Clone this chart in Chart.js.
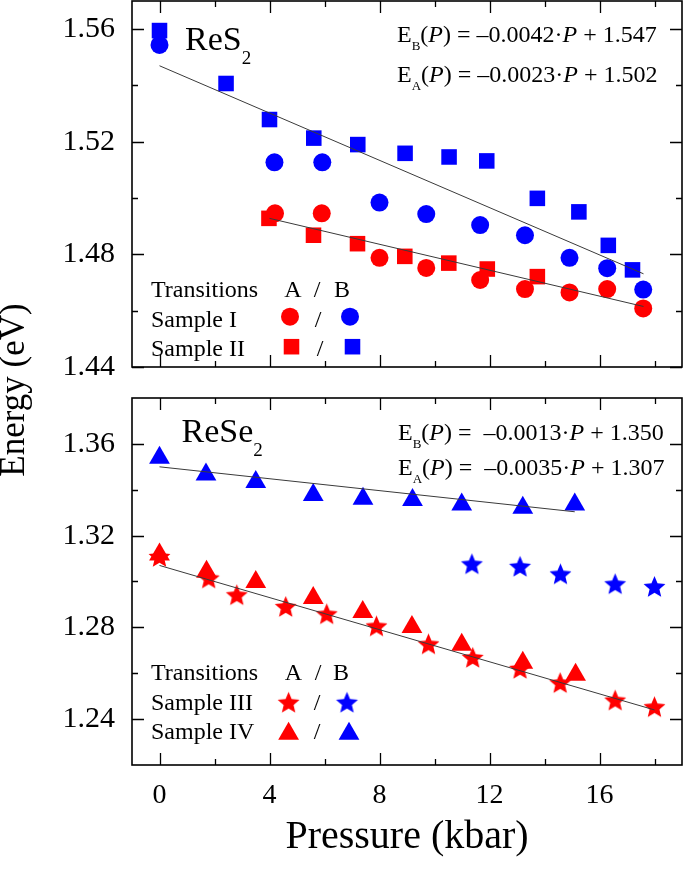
<!DOCTYPE html>
<html><head><meta charset="utf-8">
<script src="https://cdn.jsdelivr.net/npm/chart.js@4/dist/chart.umd.min.js"></script>
<style>
html,body{margin:0;padding:0;background:#fff;}
#wrap{position:relative;width:685px;height:869px;}
canvas{position:absolute;left:0;top:0;}
</style></head><body>
<div id="wrap"><canvas id="cBot" width="685" height="869"></canvas><canvas id="cTop" width="685" height="869"></canvas></div>
<script>
// ---------- data ----------
const xTickValues = [0, 2, 4, 6, 8, 10, 12, 14, 16, 18];
const xTickLabels = ['0', '', '4', '', '8', '', '12', '', '16', ''];
const yTopTickValues = [1.44, 1.46, 1.48, 1.50, 1.52, 1.54, 1.56];
const yTopTickLabels = ['1.44', '', '1.48', '', '1.52', '', '1.56'];
const yBotTickValues = [1.24, 1.26, 1.28, 1.30, 1.32, 1.34, 1.36];
const yBotTickLabels = ['1.24', '', '1.28', '', '1.32', '', '1.36'];

// ReS2 — Sample I (circles), Sample II (squares)
const s1A_P = [4.2, 5.9, 8.0, 9.7, 11.66, 13.29, 14.91, 16.28, 17.59];
const s1A_E = [1.4946, 1.4946, 1.4788, 1.4752, 1.4709, 1.4677, 1.4665, 1.4677, 1.4608];
const s1B_P = [0, 4.18, 5.92, 8.0, 9.7, 11.66, 13.29, 14.91, 16.28, 17.59];
const s1B_E = [1.5544, 1.5127, 1.5127, 1.4984, 1.4943, 1.4904, 1.4868, 1.4788, 1.4751, 1.4675];
const s2A_P = [3.98, 5.6, 7.2, 8.92, 10.52, 11.92, 13.74];
const s2A_E = [1.4928, 1.4868, 1.4838, 1.4793, 1.4769, 1.4748, 1.4721];
const s2B_P = [0, 2.42, 4.0, 5.61, 7.21, 8.93, 10.53, 11.9, 13.74, 15.25, 16.32, 17.2];
const s2B_E = [1.5595, 1.5407, 1.5279, 1.5213, 1.5190, 1.5159, 1.5146, 1.5132, 1.4999, 1.4951, 1.4832, 1.4745];
// ReS2 fit lines (end points)
const fitTopB_P = [0, 17.6];
const fitTopB_E = [1.547, 1.4731];
const fitTopA_P = [4.0, 17.6];
const fitTopA_E = [1.4928, 1.4615];

// ReSe2 — Sample III (stars), Sample IV (triangles)
const s3A_P = [0, 1.79, 2.81, 4.59, 6.08, 7.89, 9.78, 11.39, 13.11, 14.57, 16.57, 18.0];
const s3A_E = [1.3109, 1.3015, 1.2942, 1.2891, 1.2859, 1.2806, 1.2728, 1.2669, 1.2621, 1.2559, 1.2483, 1.2454];
const s3B_P = [11.36, 13.11, 14.58, 16.57, 18.0];
const s3B_E = [1.3077, 1.3066, 1.3033, 1.2990, 1.2978];
const s4A_P = [0, 1.71, 3.5, 5.59, 7.39, 9.18, 10.99, 13.21, 15.13];
const s4A_E = [1.3118, 1.3042, 1.2998, 1.2928, 1.2867, 1.2802, 1.2724, 1.2646, 1.2593];
const s4B_P = [0, 1.69, 3.5, 5.59, 7.4, 9.2, 10.99, 13.21, 15.1];
const s4B_E = [1.3540, 1.3467, 1.3434, 1.3377, 1.3361, 1.3355, 1.3336, 1.3322, 1.3336];
// ReSe2 fit lines (end points)
const fitBotB_P = [0, 15.1];
const fitBotB_E = [1.350, 1.3304];
const fitBotA_P = [0, 18.0];
const fitBotA_E = [1.307, 1.244];

// ---------- styling ----------
const FF = '"Liberation Serif", "Times New Roman", serif';
const RED = '#ff0000', BLUE = '#0000ff';
const R_CIRCLE = 9, R_RECT = 11, R_TRI = 12;

function makeStar(color, R, ratio) {
  const size = Math.ceil(R * 2 + 2);
  const c = document.createElement('canvas'); c.width = size; c.height = size;
  const g = c.getContext('2d'); g.fillStyle = color; g.beginPath();
  const cx = size / 2, cy = size / 2 + R * 0.09;
  for (let i = 0; i < 10; i++) {
    const rr = i % 2 ? R * ratio : R;
    const a = -Math.PI / 2 + i * Math.PI / 5;
    const px = cx + rr * Math.cos(a), py = cy + rr * Math.sin(a);
    if (i) g.lineTo(px, py); else g.moveTo(px, py);
  }
  g.closePath(); g.fill(); return c;
}
const starRed = makeStar(RED, 11.5, 0.45);
const starBlue = makeStar(BLUE, 11.5, 0.45);

function pts(P, E) { return P.map((p, i) => ({ x: p, y: E[i] })); }
function scat(P, E, style, color, r) {
  return { type: 'scatter', data: pts(P, E), pointStyle: style, pointRadius: r, pointHoverRadius: r,
    backgroundColor: color, borderColor: color, borderWidth: 0, order: 1, showLine: false, clip: false };
}
function fit(P, E) {
  return { type: 'line', data: pts(P, E), borderColor: '#3a3a3a', borderWidth: 1, pointRadius: 0,
    fill: false, tension: 0, order: 0, clip: false };
}

function drawRich(ctx, x, y, segs) {
  ctx.textAlign = 'left'; ctx.textBaseline = 'alphabetic';
  for (const s of segs) {
    ctx.font = (s.it ? 'italic ' : '') + (s.s || 24) + 'px ' + FF;
    ctx.fillText(s.t, x, y + (s.dy || 0));
    x += ctx.measureText(s.t).width;
  }
}
function drawText(ctx, t, x, y, size, align) {
  ctx.font = size + 'px ' + FF; ctx.textAlign = align || 'left'; ctx.textBaseline = 'alphabetic';
  ctx.fillText(t, x, y);
}
function drawMarker(ctx, style, x, y, color) {
  ctx.save(); ctx.fillStyle = color; ctx.beginPath();
  if (style === 'circle') { ctx.arc(x, y, R_CIRCLE, 0, Math.PI * 2); }
  else if (style === 'rect') { const h = R_RECT * Math.SQRT1_2; ctx.rect(x - h, y - h, 2 * h, 2 * h); }
  else if (style === 'triangle') {
    for (let i = 0; i < 3; i++) { const a = i * 2 * Math.PI / 3; const px = x + Math.sin(a) * R_TRI, py = y - Math.cos(a) * R_TRI; if (i) ctx.lineTo(px, py); else ctx.moveTo(px, py); }
    ctx.closePath();
  }
  ctx.fill();
  if (style === 'star') { const img = color === RED ? starRed : starBlue; ctx.drawImage(img, x - img.width / 2, y - img.height / 2); }
  ctx.restore();
}

const frameTicks = {
  id: 'frameTicks',
  afterDatasetsDraw(chart, args, opts) {
    const { ctx, chartArea: a, scales: { x, y } } = chart;
    ctx.save(); ctx.strokeStyle = '#000'; ctx.lineWidth = 1.3;
    ctx.beginPath();
    x.ticks.forEach((t, i) => {
      const px = Math.round(x.getPixelForValue(t.value)) + 0.5;
      const len = xTickLabels[i] ? 12 : 6;
      ctx.moveTo(px, a.bottom); ctx.lineTo(px, a.bottom - len);
      ctx.moveTo(px, a.top); ctx.lineTo(px, a.top + len);
    });
    y.ticks.forEach((t, i) => {
      const py = Math.round(y.getPixelForValue(t.value)) + 0.5;
      const len = opts.ylabels[i] ? 12 : 6;
      ctx.moveTo(a.left, py); ctx.lineTo(a.left + len, py);
      ctx.moveTo(a.right, py); ctx.lineTo(a.right - len, py);
    });
    ctx.stroke();
    ctx.lineWidth = 1.6;
    ctx.strokeRect(a.left, a.top, a.right - a.left, a.bottom - a.top);
    ctx.restore();
  }
};

const topDecor = {
  id: 'topDecor',
  afterDraw(chart) {
    const ctx = chart.ctx; ctx.save(); ctx.fillStyle = '#000';
    drawRich(ctx, 185, 50, [{ t: 'ReS', s: 34 }, { t: '2', s: 19, dy: 14 }]);
    drawRich(ctx, 397, 41.5, [{ t: 'E' }, { t: 'B', s: 13, dy: 8 }, { t: '(' }, { t: 'P', it: true }, { t: ') = \u20130.0042\u00B7' }, { t: 'P', it: true }, { t: ' + 1.547' }]);
    drawRich(ctx, 397, 81.5, [{ t: 'E' }, { t: 'A', s: 13, dy: 8 }, { t: '(' }, { t: 'P', it: true }, { t: ') = \u20130.0023\u00B7' }, { t: 'P', it: true }, { t: ' + 1.502' }]);
    drawText(ctx, 'Transitions', 151, 297, 24);
    drawText(ctx, 'A', 293, 297, 24, 'center');
    drawText(ctx, '/', 317, 297, 24, 'center');
    drawText(ctx, 'B', 342, 297, 24, 'center');
    drawText(ctx, 'Sample I', 151, 326.5, 24);
    drawText(ctx, '/', 318, 326.5, 24, 'center');
    drawText(ctx, 'Sample II', 151, 356, 24);
    drawText(ctx, '/', 320, 356, 24, 'center');
    drawMarker(ctx, 'circle', 290, 316.7, RED);
    drawMarker(ctx, 'circle', 350, 316.7, BLUE);
    drawMarker(ctx, 'rect', 291.5, 346.7, RED);
    drawMarker(ctx, 'rect', 352.5, 346.7, BLUE);
    // y-axis title spanning both panels
    ctx.save(); ctx.translate(24, 390); ctx.rotate(-Math.PI / 2);
    ctx.font = '35px ' + FF; ctx.textAlign = 'center'; ctx.textBaseline = 'alphabetic';
    ctx.fillText('Energy (eV)', 0, 0); ctx.restore();
    ctx.restore();
  }
};

const botDecor = {
  id: 'botDecor',
  afterDraw(chart) {
    const ctx = chart.ctx; ctx.save(); ctx.fillStyle = '#000';
    drawRich(ctx, 181.5, 441.7, [{ t: 'ReSe', s: 34 }, { t: '2', s: 19, dy: 14 }]);
    drawRich(ctx, 398, 440, [{ t: 'E' }, { t: 'B', s: 13, dy: 8 }, { t: '(' }, { t: 'P', it: true }, { t: ') =  \u20130.0013\u00B7' }, { t: 'P', it: true }, { t: ' + 1.350' }]);
    drawRich(ctx, 398, 475, [{ t: 'E' }, { t: 'A', s: 13, dy: 8 }, { t: '(' }, { t: 'P', it: true }, { t: ') =  \u20130.0035\u00B7' }, { t: 'P', it: true }, { t: ' + 1.307' }]);
    drawText(ctx, 'Transitions', 151, 680, 24);
    drawText(ctx, 'A', 293.5, 680, 24, 'center');
    drawText(ctx, '/', 318, 680, 24, 'center');
    drawText(ctx, 'B', 341, 680, 24, 'center');
    drawText(ctx, 'Sample III', 151, 709.5, 24);
    drawText(ctx, '/', 317, 709.5, 24, 'center');
    drawText(ctx, 'Sample IV', 151, 738.5, 24);
    drawText(ctx, '/', 317, 738.5, 24, 'center');
    drawMarker(ctx, 'star', 288.6, 702.3, RED);
    drawMarker(ctx, 'star', 347, 702.3, BLUE);
    drawMarker(ctx, 'triangle', 288.6, 733.7, RED);
    drawMarker(ctx, 'triangle', 349, 733.7, BLUE);
    ctx.restore();
  }
};

function noPad(s) { s.paddingTop = 0; s.paddingBottom = 0; s.paddingLeft = 0; s.paddingRight = 0; }

function xScale(showLabels) {
  return {
    type: 'linear', min: -1, max: 19,
    afterBuildTicks: s => { s.ticks = xTickValues.map(v => ({ value: v })); },
    ticks: { display: showLabels, autoSkip: false, maxRotation: 0, padding: 14, color: '#000',
      font: { size: 28, family: FF }, callback: (v, i) => xTickLabels[i] },
    grid: { display: false, drawTicks: false }, border: { display: false },
    title: showLabels ? { display: true, text: 'Pressure (kbar)', color: '#000', font: { size: 40, family: FF }, padding: { top: 0, bottom: 8 } } : { display: false },
    afterFit: s => { s.height = showLabels ? 104 : 0; noPad(s); }
  };
}
function yScale(min, max, vals, labels) {
  return {
    type: 'linear', min: min, max: max,
    afterBuildTicks: s => { s.ticks = vals.map(v => ({ value: v })); },
    ticks: { autoSkip: false, padding: 17, color: '#000', font: { size: 30, family: FF }, callback: (v, i) => labels[i] },
    grid: { display: false, drawTicks: false }, border: { display: false },
    afterFit: s => { s.width = 132; noPad(s); }
  };
}

const common = { responsive: false, animation: false, events: [] };

new Chart(document.getElementById('cTop'), {
  type: 'scatter',
  data: { datasets: [
    fit(fitTopB_P, fitTopB_E), fit(fitTopA_P, fitTopA_E),
    scat(s2B_P, s2B_E, 'rect', BLUE, R_RECT),
    scat(s1B_P, s1B_E, 'circle', BLUE, R_CIRCLE),
    scat(s2A_P, s2A_E, 'rect', RED, R_RECT),
    scat(s1A_P, s1A_E, 'circle', RED, R_CIRCLE)
  ] },
  options: Object.assign({}, common, {
    layout: { autoPadding: false, padding: { left: 0, right: 3, top: 1, bottom: 502 } },
    plugins: { legend: { display: false }, tooltip: { enabled: false }, frameTicks: { ylabels: yTopTickLabels } },
    scales: { x: xScale(false), y: yScale(1.44, 1.57, yTopTickValues, yTopTickLabels) }
  }),
  plugins: [frameTicks, topDecor]
});

new Chart(document.getElementById('cBot'), {
  type: 'scatter',
  data: { datasets: [
    fit(fitBotB_P, fitBotB_E), fit(fitBotA_P, fitBotA_E),
    scat(s4B_P, s4B_E, 'triangle', BLUE, R_TRI),
    scat(s3B_P, s3B_E, starBlue, BLUE, 10),
    scat(s4A_P, s4A_E, 'triangle', RED, R_TRI),
    scat(s3A_P, s3A_E, starRed, RED, 10)
  ] },
  options: Object.assign({}, common, {
    layout: { autoPadding: false, padding: { left: 0, right: 3, top: 398, bottom: 0 } },
    plugins: { legend: { display: false }, tooltip: { enabled: false }, frameTicks: { ylabels: yBotTickLabels } },
    scales: { x: xScale(true), y: yScale(1.22, 1.38, yBotTickValues, yBotTickLabels) }
  }),
  plugins: [frameTicks, botDecor]
});
</script>
</body></html>
